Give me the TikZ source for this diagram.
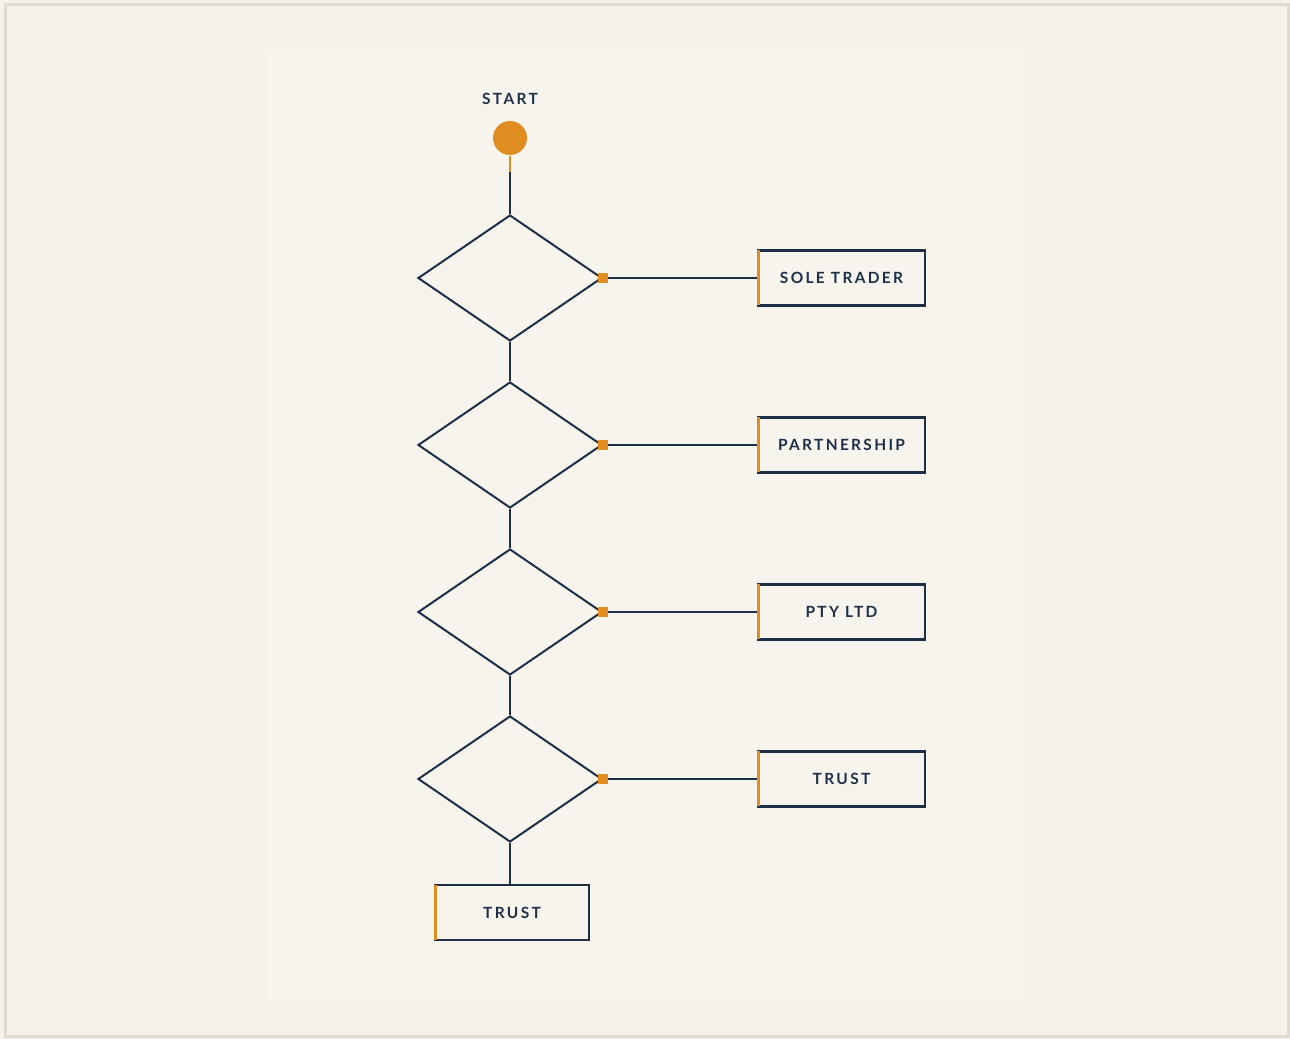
\documentclass[tikz,border=0pt]{standalone}
\usepackage{fontspec}
\setmainfont{Lato}
\usetikzlibrary{shapes.geometric}
\definecolor{navy}{HTML}{1E3048}
\definecolor{amber}{HTML}{E08E22}
\definecolor{paper}{HTML}{F5F2EC}
\definecolor{sheet}{HTML}{F7F4EE}
\definecolor{rim}{HTML}{E2DAD2}
\tikzset{
  wire/.style={draw=navy, line width=0.02cm},
  decision/.style={diamond, wire, inner sep=0pt, minimum width=1.84cm, minimum height=1.26cm},
  tip/.style={rectangle, fill=amber, inner sep=0pt, minimum size=0.1cm},
  tag/.style={font=\fontsize{4.4}{6}\selectfont\bfseries\addfontfeature{LetterSpace=15}, text=navy},
  outcome/.style={rectangle, draw=navy, line width=0.025cm, inner sep=0pt, outer sep=0pt, minimum height=0.55cm, tag},
  edge/.style={amber, line width=0.03cm}
}
\begin{document}
\begin{tikzpicture}
% page
\fill[paper] (0,0) rectangle (12.9,10.39);
\draw[rim, line width=0.03cm] (0.05,0.02) rectangle (12.88,10.34);
\fill[sheet] (2.68,0.39) rectangle (10.25,9.87);
\useasboundingbox (0,0) rectangle (12.9,10.39);

% start
\node[tag] (startlbl) at (5.10,9.40) {START};
\node[circle, fill=amber, inner sep=0pt, minimum size=0.34cm] (start) at (5.10,9.01) {};
\coordinate (stem) at (5.10,8.67);

% decisions and outcomes
\foreach \i/\y/\t in {1/7.61/SOLE TRADER, 2/5.94/PARTNERSHIP, 3/4.27/PTY LTD, 4/2.60/TRUST} {
  \node[decision] (d\i) at (5.10,\y) {};
  \node[outcome, minimum width=1.67cm] (o\i) at (8.415,\y) {\t};
  \draw[wire] (d\i.east) -- (o\i);
  \node[tip] (t\i) at (d\i.east) {};
  \draw[edge] (o\i.north west) -- (o\i.south west);
}
\node[outcome, minimum width=1.54cm] (o5) at (5.12,1.265) {TRUST};
\draw[edge] (o5.north west) -- (o5.south west);

% spine
\draw[edge, line width=0.02cm] (start) -- (stem);
\draw[wire] (stem) -- (d1.north);
\draw[wire] (d1.south) -- (d2.north);
\draw[wire] (d2.south) -- (d3.north);
\draw[wire] (d3.south) -- (d4.north);
\draw[wire] (d4.south) -- (d4.south |- o5.north);
\end{tikzpicture}
\end{document}
